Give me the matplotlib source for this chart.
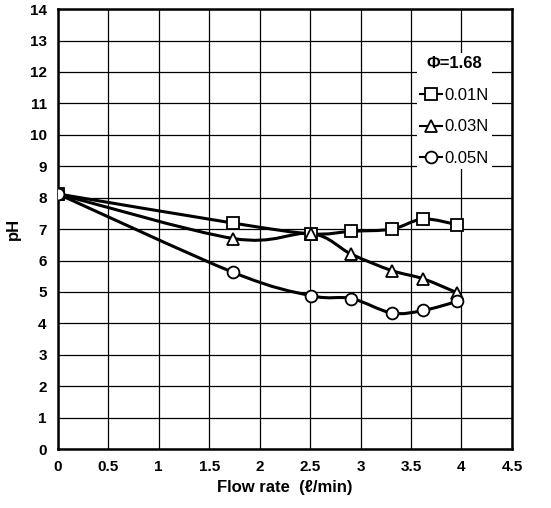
import numpy as np
import matplotlib
matplotlib.use("Agg")
import matplotlib.pyplot as plt
from matplotlib.path import Path
from matplotlib.patches import PathPatch

plt.rcParams["font.family"] = ["Liberation Sans", "DejaVu Sans"]

# Flow rate (l/min)
flow = [0.0, 1.74, 2.51, 2.91, 3.31, 3.62, 3.96]

# pH for each concentration
ph_001 = [8.12, 7.19, 6.85, 6.93, 7.0, 7.32, 7.14]
ph_003 = [8.12, 6.70, 6.86, 6.20, 5.68, 5.42, 4.97]
ph_005 = [8.12, 5.62, 4.88, 4.79, 4.33, 4.41, 4.70]

series = [
    ("0.01N", ph_001, "s"),
    ("0.03N", ph_003, "^"),
    ("0.05N", ph_005, "o"),
]


def smooth_path(x, y):
    """Excel-like smoothed line: cubic Bezier through the points."""
    x = np.asarray(x, float)
    y = np.asarray(y, float)
    n = len(x)
    verts = [(x[0], y[0])]
    codes = [Path.MOVETO]
    for i in range(n - 1):
        p0 = np.array([x[max(i - 1, 0)], y[max(i - 1, 0)]])
        p1 = np.array([x[i], y[i]])
        p2 = np.array([x[i + 1], y[i + 1]])
        p3 = np.array([x[min(i + 2, n - 1)], y[min(i + 2, n - 1)]])
        c1 = p1 + (p2 - p0) / 6.0
        c2 = p2 - (p3 - p1) / 6.0
        verts += [tuple(c1), tuple(c2), tuple(p2)]
        codes += [Path.CURVE4] * 3
    return Path(verts, codes)


fig = plt.figure(figsize=(5.51, 5.08), dpi=100)
ax = fig.add_axes([0.105, 0.116, 0.824, 0.866])

for label, ys, marker in series:
    ax.add_patch(PathPatch(smooth_path(flow, ys), facecolor="none",
                           edgecolor="black", lw=2.2, zorder=3))
    ax.plot(flow, ys, linestyle="none", marker=marker, markersize=8.5,
            markerfacecolor="white", markeredgecolor="black",
            markeredgewidth=1.3, zorder=4)
    # legend proxy
    ax.plot([], [], color="black", lw=1.5, marker=marker, markersize=8.5,
            markerfacecolor="white", markeredgecolor="black",
            markeredgewidth=1.3, label=label)

ax.set_xlim(0, 4.5)
ax.set_ylim(0, 14)
ax.set_xticks(np.arange(0, 4.51, 0.5))
ax.set_xticklabels(["0", "0.5", "1", "1.5", "2", "2.5", "3", "3.5", "4", "4.5"])
ax.set_yticks(range(0, 15))
ax.grid(True, color="black", lw=0.9)
ax.set_axisbelow(True)
ax.tick_params(length=0, pad=8, labelsize=11)
for lab in ax.get_xticklabels() + ax.get_yticklabels():
    lab.set_fontweight("bold")
for sp in ax.spines.values():
    sp.set_linewidth(1.8)

ax.set_xlabel("Flow rate  (ℓ/min)", fontsize=12, fontweight="bold", labelpad=4)
ax.set_ylabel("pH", fontsize=12, fontweight="bold", labelpad=6)

leg = ax.legend(loc="upper right", bbox_to_anchor=(0.975, 0.92),
                title="Φ=1.68", title_fontproperties={"weight": "bold", "size": 12},
                fontsize=12, frameon=True, fancybox=False, edgecolor="none",
                facecolor="white", framealpha=1, handlelength=1.3,
                handletextpad=0.15, labelspacing=1.0, borderpad=0.2)
leg.set_zorder(5)

fig.savefig("out.png", dpi=100)
